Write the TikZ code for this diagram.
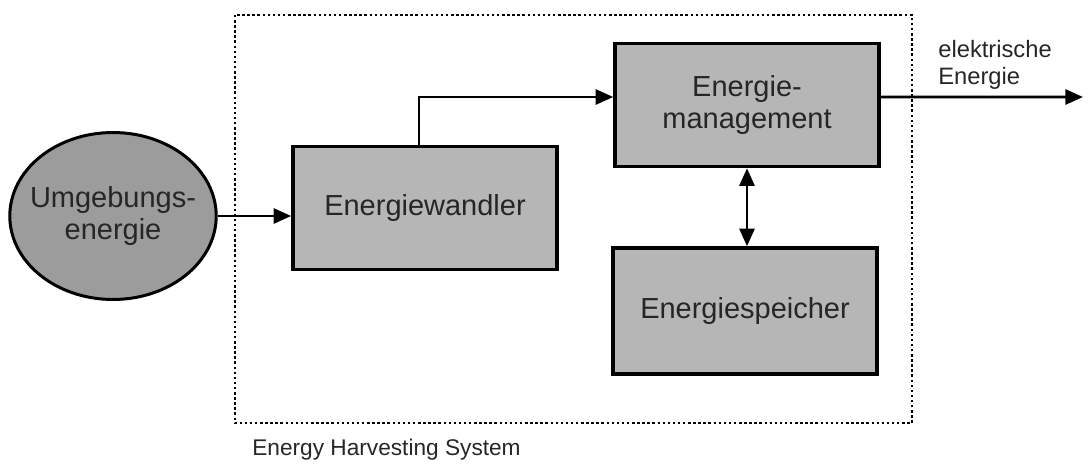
\documentclass[tikz,border=0pt]{standalone}
\usepackage{fontspec}
\setmainfont{Liberation Sans}
\usetikzlibrary{shapes.geometric, arrows.meta, positioning}
\definecolor{boxgray}{HTML}{B6B6B6}
\definecolor{srcgray}{HTML}{9C9C9C}
\definecolor{txtgray}{HTML}{262626}

\begin{document}
\begin{tikzpicture}[x=0.02cm, y=-0.02cm, >={Triangle[length=10pt, width=8.5pt]},
    block/.style={rectangle, draw=black, line width=2pt, fill=boxgray,
      minimum width=5.28cm, minimum height=2.46cm, inner sep=0pt,
      align=center, text=txtgray, font=\fontsize{16.5}{18}\selectfont},
    srcnode/.style={ellipse, draw=black, line width=1.7pt, fill=srcgray,
      minimum width=4.12cm, minimum height=3.34cm, inner ysep=0pt,
      inner xsep=-0.2cm, align=center, text=txtgray,
      font=\fontsize{16.5}{18}\selectfont},
    flow/.style={->, line width=1.6pt},
    note/.style={text=txtgray, align=left, inner sep=0pt},
  ]
    \useasboundingbox (0,0) rectangle (1088,464);

    % system boundary
    \draw[line width=1.6pt, dash pattern=on 1.4pt off 1.5pt] (235,15) rectangle (912,423);
    \node[note, anchor=west, font=\fontsize{12.9}{14}\selectfont] (sys) at (252,450) {Energy Harvesting System};

    % blocks
    \node[srcnode] (umg)   at (113,216) {Umgebungs-\\energie};
    \node[block]   (wand)  at (425,208) {Energiewandler};
    \node[block]   (mgmt)  at (747,105) {Energie-\\management};
    \node[block, minimum height=2.52cm] (spei) at (745,311) {Energiespeicher};

    % connectors
    \draw[flow] (umg) -- (umg -| wand.west);
    \draw[flow] ([xshift=-0.12cm]wand.north) |- ([yshift=0.16cm]mgmt.west);
    \draw[<->, line width=1.6pt] (mgmt.south) -- (mgmt.south |- spei.north);

    % output
    \coordinate (out) at (1083,97);
    \draw[flow] ([yshift=0.16cm]mgmt.east) -- (out);
    \node[note, anchor=west, font=\fontsize{13.5}{15}\selectfont] (elek) at (938,65) {elektrische\\Energie};
\end{tikzpicture}
\end{document}
